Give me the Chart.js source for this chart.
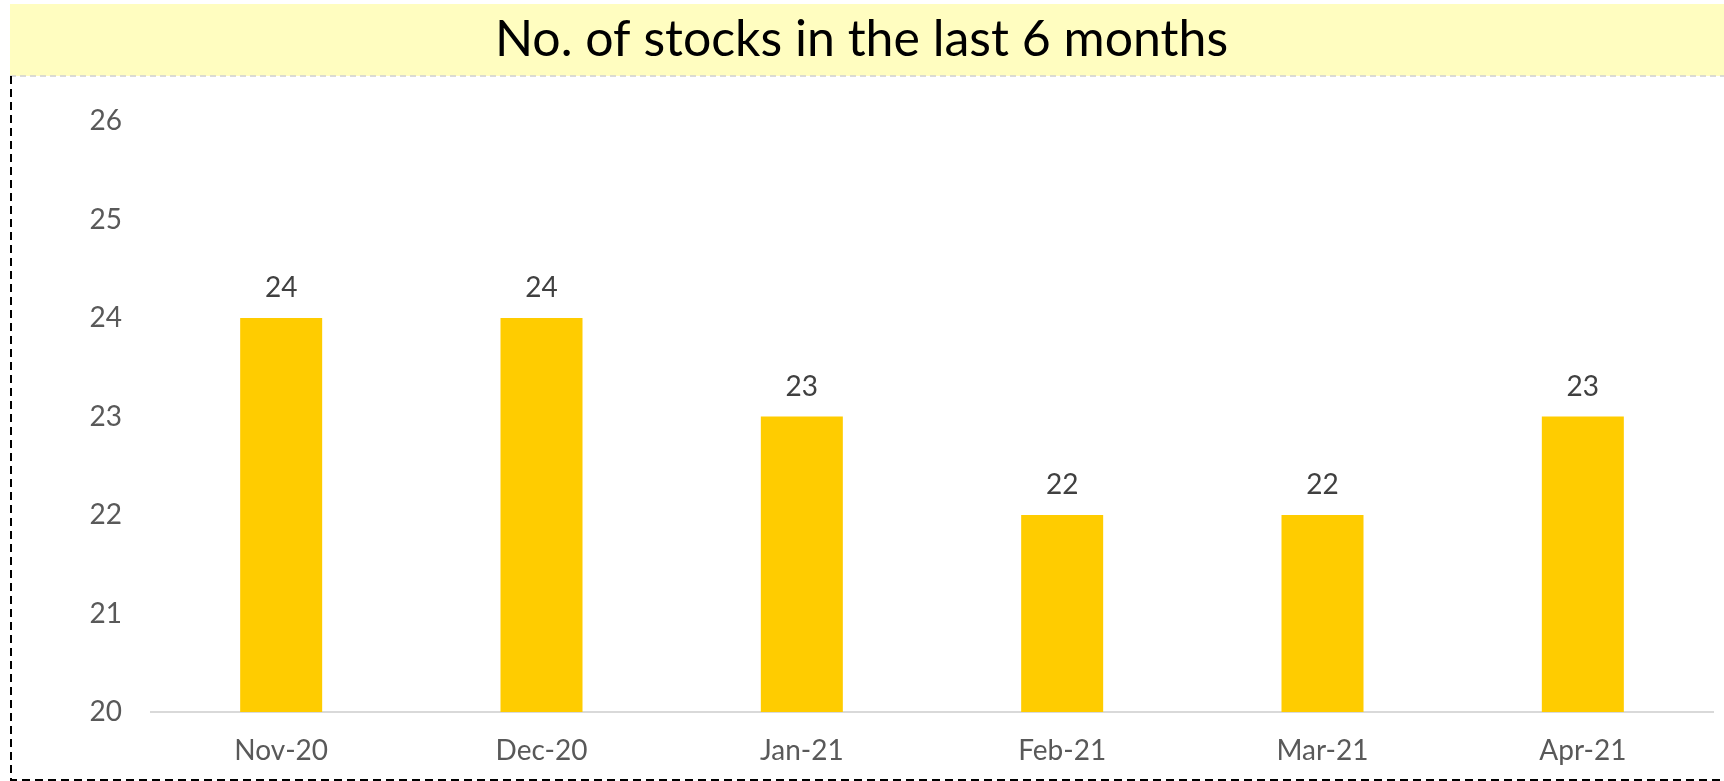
<!DOCTYPE html>
<html>
<head>
<meta charset="utf-8">
<script src="https://cdn.jsdelivr.net/npm/chart.js@4"></script>
<style>
  html, body { margin: 0; padding: 0; background: #fff; }
  #wrap { width: 1724px; height: 781px; position: relative; }
</style>
</head>
<body>
<div id="wrap"><canvas id="bar_stocks"></canvas></div>
<script>
const months = ["Nov-20", "Dec-20", "Jan-21", "Feb-21", "Mar-21", "Apr-21"];
const stockCounts = [24, 24, 23, 22, 22, 23];
const yTicks = [20, 21, 22, 23, 24, 25, 26];

const FONT = "Lato, 'Open Sans', sans-serif";

// yellow title band + dashed frame
const frame_plugin = {
    id: "frame",
    beforeDraw(chart) {
        const c = chart.ctx;
        const tb = chart.titleBlock;
        c.save();
        c.fillStyle = "#FFFDC0";
        c.fillRect(10, tb.top, chart.width - 10, 72);
        c.restore();
    },
    afterDraw(chart) {
        const c = chart.ctx;
        const tb = chart.titleBlock;
        const yLine = tb.top + 72;
        c.save();
        c.lineWidth = 1.5;
        c.setLineDash([6, 4]);
        c.strokeStyle = "#cfcfcf";
        c.beginPath();
        c.moveTo(10, yLine);
        c.lineTo(chart.width, yLine);
        c.stroke();
        c.lineWidth = 2;
        c.setLineDash([8, 5]);
        c.strokeStyle = "#000";
        c.beginPath();
        c.moveTo(11, yLine);
        c.lineTo(11, chart.height - 1);
        c.lineTo(chart.width, chart.height - 1);
        c.stroke();
        c.restore();
    }
};

// value labels above bars
const value_labels = {
    id: "valueLabels",
    afterDatasetsDraw(chart) {
        const c = chart.ctx;
        const meta = chart.getDatasetMeta(0);
        c.save();
        c.font = "28px " + FONT;
        c.fillStyle = "#404040";
        c.textAlign = "center";
        c.textBaseline = "middle";
        meta.data.forEach((bar, i) => {
            c.fillText(String(stockCounts[i]), bar.x, bar.y - 30);
        });
        c.restore();
    }
};

const config_stocks = {
    type: "bar",
    data: {
        labels: months,
        datasets: [{
            label: "No. of stocks",
            data: stockCounts,
            backgroundColor: "#FFCC00",
            barPercentage: 0.315,
            categoryPercentage: 1.0
        }]
    },
    options: {
        responsive: true,
        maintainAspectRatio: false,
        animation: false,
        layout: { padding: { left: 10, right: 11, top: 4, bottom: 0 } },
        plugins: {
            legend: { display: false },
            tooltip: { enabled: false },
            title: {
                display: true,
                text: "No. of stocks in the last 6 months",
                color: "#000",
                font: { family: FONT, size: 50, weight: "normal" },
                padding: { top: 6, bottom: 51 }
            }
        },
        scales: {
            x: {
                grid: { display: false, drawTicks: false },
                border: { display: true, color: "#d9d9d9", width: 2 },
                ticks: { color: "#595959", font: { family: FONT, size: 28 }, padding: 22 },
                afterFit(s) { s.height = 69; }
            },
            y: {
                min: 20,
                max: 26,
                grid: { display: false, drawTicks: false },
                border: { display: false },
                afterBuildTicks(s) { s.ticks = yTicks.map(v => ({ value: v })); },
                ticks: { color: "#595959", font: { family: FONT, size: 28 }, padding: 29 },
                afterFit(s) { s.width = 141; }
            }
        }
    },
    plugins: [frame_plugin, value_labels]
};

const ctx_stocks = document.getElementById("bar_stocks").getContext("2d");
const myChart_stocks = new Chart(ctx_stocks, config_stocks);
</script>
</body>
</html>
